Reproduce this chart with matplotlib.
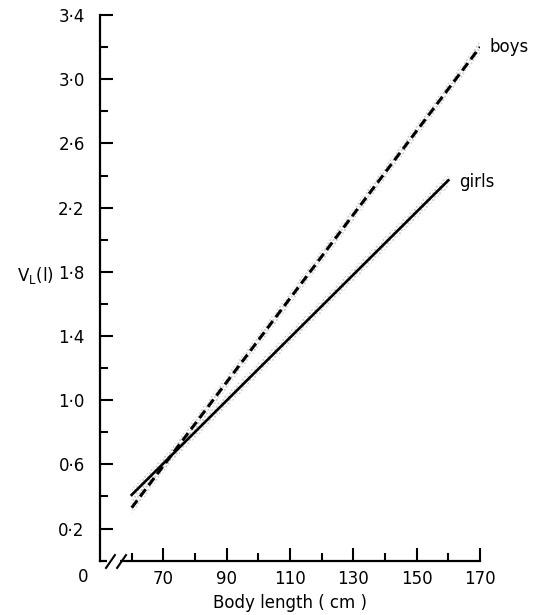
import matplotlib
matplotlib.use("Agg")
import matplotlib.pyplot as plt
import numpy as np

# Data
boys_x = [60, 170]
boys_y = [0.33, 3.20]
girls_x = [60, 160]
girls_y = [0.41, 2.37]
band_half = 0.04

x_major = [70, 90, 110, 130, 150, 170]
x_minor = [60, 80, 100, 120, 140, 160]
y_major = [0.2, 0.6, 1.0, 1.4, 1.8, 2.2, 2.6, 3.0, 3.4]
y_minor = [0.4, 0.8, 1.2, 1.6, 2.0, 2.4, 2.8, 3.2]

plt.rcParams['font.family'] = ['DejaVu Sans']
fig = plt.figure(figsize=(5.36, 6.15), dpi=100)
ax = fig.add_axes([0.1866, 0.0883, 0.7089, 0.8873])
ax.set_xlim(50, 170)
ax.set_ylim(0, 3.4)

# faint stipple bands
for xs, ys in [(boys_x, boys_y), (girls_x, girls_y)]:
    xx = np.array(xs, dtype=float)
    yy = np.array(ys, dtype=float)
    ax.fill_between(xx, yy - band_half, yy + band_half, facecolor='none',
                    edgecolor='#c8c8c8', hatch='.....', linewidth=0, zorder=1)

ax.plot(boys_x, boys_y, color='black', lw=2.2, dashes=(3.0, 1.6),
        solid_capstyle='butt', zorder=3)
ax.plot(girls_x, girls_y, color='black', lw=1.9, zorder=3)

ax.text(173, 3.2, 'boys', fontsize=12, va='center', ha='left')
ax.text(163.5, 2.36, 'girls', fontsize=12, va='center', ha='left')

for s in ['top', 'right']:
    ax.spines[s].set_visible(False)
for s in ['left', 'bottom']:
    ax.spines[s].set_linewidth(1.6)

ax.set_xticks(x_major)
ax.set_xticklabels([str(v) for v in x_major])
ax.set_xticks(x_minor, minor=True)
ax.set_yticks(y_major)
ax.set_yticklabels([f'{v:.1f}'.replace('.', '\u00b7') for v in y_major])
ax.set_yticks(y_minor, minor=True)
ax.tick_params(which='major', direction='in', length=9.4, width=1.5,
               labelsize=12, pad=7)
ax.tick_params(which='minor', direction='in', length=5.8, width=1.5)
ax.tick_params(axis='y', which='major', pad=11)

# axis break on x-axis
ax.plot([52.2, 56.2], [0, 0], color='white', lw=3, clip_on=False, zorder=5,
        solid_capstyle='butt')
for x0 in [51.9, 55.4]:
    ax.plot([x0, x0 + 2.8], [-0.045, 0.035], color='black', lw=1.5,
            clip_on=False, zorder=6)

fig.text(83 / 536, 1 - 577 / 615, '0', fontsize=12, ha='center', va='center')
fig.text(290 / 536, 1 - 603 / 615, 'Body length ( cm )', fontsize=12,
         ha='center', va='center')
fig.text(35 / 536, 1 - 276 / 615, r'$\mathregular{V_L}$(l)', fontsize=12,
         ha='center', va='center')

fig.savefig('out.png', dpi=100, facecolor='white')
